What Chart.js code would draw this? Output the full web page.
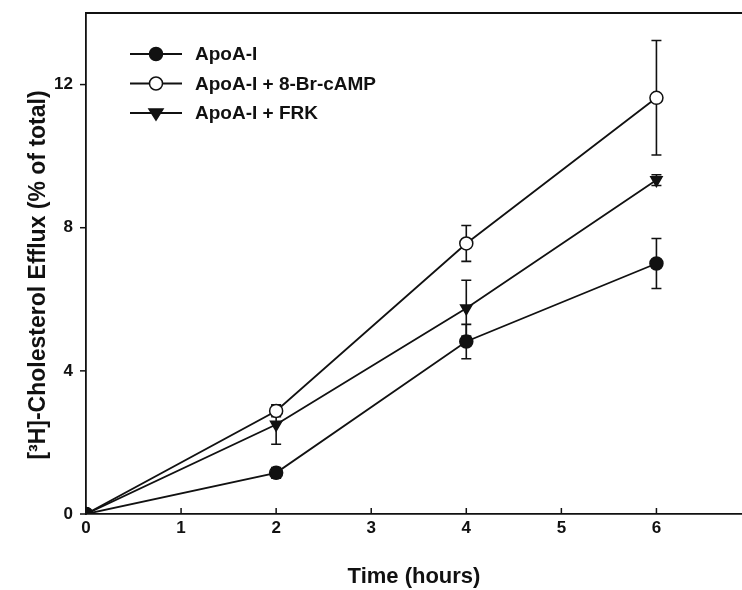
<!DOCTYPE html>
<html>
<head>
<meta charset="utf-8">
<script src="https://cdn.jsdelivr.net/npm/chart.js"></script>
<style>
  body { margin: 0; background: #fff; }
  #wrap { width: 742px; height: 590px; }
</style>
</head>
<body>
<div id="wrap"><canvas id="myChart" width="742" height="590"></canvas></div>
<script>
// time points (hours)
const hours = [0, 2, 4, 6];

// efflux values
const apoA = [0, 1.15, 4.82, 7.0];
const apoA_err = [0, 0.15, 0.48, 0.7];

const apoA_cAMP = [0, 2.88, 7.56, 11.63];
const apoA_cAMP_err = [0, 0.16, 0.5, 1.6];

const apoA_FRK = [0, 2.5, 5.75, 9.33];
const apoA_FRK_err = [0, 0.55, 0.78, 0.15];

const labelsLegend = ['ApoA-I', 'ApoA-I + 8-Br-cAMP', 'ApoA-I + FRK'];
const yTicks = [0, 4, 8, 12];
const xTicks = [0, 1, 2, 3, 4, 5, 6];
const yTitle = '[³H]-Cholesterol Efflux (% of total)';

function pts(ys) {
  return hours.map((h, i) => ({x: h, y: ys[i]}));
}

const errs = [apoA_err, apoA_cAMP_err, apoA_FRK_err];
const FONT = '"Liberation Sans", Arial, sans-serif';

// error bars, drawn through the chart's scales
const errorBars = {
  id: 'errorBars',
  beforeDatasetsDraw(chart) {
    const ctx = chart.ctx;
    const xs = chart.scales.x, ys = chart.scales.y;
    ctx.save();
    ctx.strokeStyle = '#111';
    ctx.lineWidth = 1.6;
    chart.data.datasets.forEach((ds, k) => {
      ds.data.forEach((p, i) => {
        const e = errs[k][i];
        if (!e) return;
        const px = xs.getPixelForValue(p.x);
        const top = ys.getPixelForValue(p.y + e);
        const bot = ys.getPixelForValue(p.y - e);
        ctx.beginPath();
        ctx.moveTo(px, top); ctx.lineTo(px, bot);
        ctx.moveTo(px - 5, top); ctx.lineTo(px + 5, top);
        ctx.moveTo(px - 5, bot); ctx.lineTo(px + 5, bot);
        ctx.stroke();
      });
    });
    ctx.restore();
  }
};

// frame top line, tick marks, y title and the legend box
const extras = {
  id: 'extras',
  afterDraw(chart) {
    const ctx = chart.ctx;
    const a = chart.chartArea;
    const xs = chart.scales.x, ys = chart.scales.y;
    ctx.save();
    ctx.strokeStyle = '#111';
    ctx.lineWidth = 1.8;
    ctx.beginPath();
    ctx.moveTo(a.left, a.top);
    ctx.lineTo(a.right, a.top);
    ctx.stroke();

    ctx.lineWidth = 1.5;
    xTicks.forEach(t => {
      const px = xs.getPixelForValue(t);
      ctx.beginPath();
      ctx.moveTo(px, a.bottom);
      ctx.lineTo(px, a.bottom - 6);
      ctx.stroke();
    });
    yTicks.forEach(t => {
      const py = ys.getPixelForValue(t);
      ctx.beginPath();
      ctx.moveTo(a.left - 6, py);
      ctx.lineTo(a.left, py);
      ctx.stroke();
    });

    // y title
    ctx.save();
    ctx.translate(39, 275);
    ctx.rotate(-Math.PI / 2);
    ctx.font = 'bold 23px ' + FONT;
    ctx.fillStyle = '#111';
    ctx.textAlign = 'center';
    ctx.textBaseline = 'middle';
    ctx.fillText(yTitle, 0, 0);
    ctx.restore();

    // legend
    const lx = a.left + 44, ly = a.top + 41, step = 29.5;
    ctx.font = 'bold 19px ' + FONT;
    ctx.textBaseline = 'middle';
    chart.data.datasets.forEach((ds, k) => {
      const y = ly + k * step;
      ctx.strokeStyle = '#111';
      ctx.lineWidth = 1.8;
      ctx.beginPath();
      ctx.moveTo(lx, y); ctx.lineTo(lx + 52, y);
      ctx.stroke();
      const cx = lx + 26;
      ctx.lineWidth = 1.5;
      ctx.fillStyle = ds.pointBackgroundColor;
      ctx.beginPath();
      if (ds.pointStyle === 'triangle') {
        ctx.moveTo(cx - 7, y - 4);
        ctx.lineTo(cx + 7, y - 4);
        ctx.lineTo(cx, y + 7);
        ctx.closePath();
      } else {
        ctx.arc(cx, y, 6.5, 0, Math.PI * 2);
      }
      ctx.fill();
      ctx.stroke();
      ctx.fillStyle = '#111';
      ctx.fillText(ds.label, lx + 65, y + 1);
    });
    ctx.restore();
  }
};

const data = {
  datasets: [{
    label: labelsLegend[0],
    data: pts(apoA),
    borderColor: '#111',
    pointBackgroundColor: '#111',
    pointStyle: 'circle'
  }, {
    label: labelsLegend[1],
    data: pts(apoA_cAMP),
    borderColor: '#111',
    pointBackgroundColor: '#fff',
    pointStyle: 'circle'
  }, {
    label: labelsLegend[2],
    data: pts(apoA_FRK),
    borderColor: '#111',
    pointBackgroundColor: '#111',
    pointStyle: 'triangle',
    pointRotation: 180
  }]
};

const tickFont = {family: FONT, size: 17, weight: 'bold'};

let chart = new Chart(document.getElementById('myChart').getContext('2d'), {
  type: 'line',
  data: data,
  plugins: [errorBars, extras],
  options: {
    responsive: false,
    animation: false,
    devicePixelRatio: 1,
    layout: {autoPadding: false, padding: {top: 13, right: 0, left: 0, bottom: 0}},
    elements: {
      line: {borderWidth: 1.8, tension: 0},
      point: {radius: 6.5, borderWidth: 1.5, borderColor: '#111', hoverRadius: 6.5}
    },
    plugins: {legend: {display: false}, tooltip: {enabled: false}},
    scales: {
      x: {
        type: 'linear',
        min: 0,
        max: 6.9,
        afterBuildTicks: s => { s.ticks = xTicks.map(v => ({value: v})); },
        afterFit: s => { s.height = 76; s.paddingLeft = 0; s.paddingRight = 0; },
        grid: {display: true, drawOnChartArea: false, drawTicks: false},
        border: {display: true, color: '#111', width: 1.8},
        ticks: {color: '#111', font: tickFont, padding: 4, maxRotation: 0},
        title: {
          display: true,
          text: 'Time (hours)',
          color: '#111',
          font: {family: FONT, size: 22, weight: 'bold'},
          padding: {top: 0, bottom: 0}
        }
      },
      y: {
        min: 0,
        max: 14,
        afterBuildTicks: s => { s.ticks = yTicks.map(v => ({value: v})); },
        afterFit: s => { s.width = 86; s.paddingTop = 0; s.paddingBottom = 0; },
        grid: {display: true, drawOnChartArea: false, drawTicks: false},
        border: {display: true, color: '#111', width: 1.8},
        ticks: {color: '#111', font: tickFont, padding: 13}
      }
    }
  }
});
</script>
</body>
</html>
